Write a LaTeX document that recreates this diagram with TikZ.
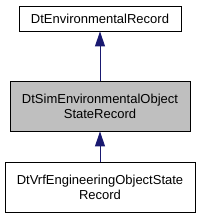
\documentclass[tikz,border=0pt]{standalone}
\usepackage{fontspec}
\setmainfont{Liberation Sans}
\usetikzlibrary{arrows.meta}
\definecolor{edgeblue}{HTML}{191970}
\definecolor{boxgray}{HTML}{BFBFBF}
\tikzset{
  cls/.style={draw=black, line width=0.9pt, fill=white, rectangle, inner sep=0pt,
    align=center, font=\fontsize{13}{15}\selectfont},
  clsgray/.style={cls, fill=boxgray},
  inherit/.style={draw=edgeblue, line width=0.9pt,
    -{Triangle[length=15pt,width=10pt]}}
}
\begin{document}
\begin{tikzpicture}[x=1pt,y=1pt]
\useasboundingbox (0,0) rectangle (200,219);
\node[cls, minimum width=162pt, minimum height=25pt] (a) at (100,200.5) {DtEnvironmentalRecord};
\node[clsgray, minimum width=180pt, minimum height=50pt] (b) at (100,113) {DtSimEnvironmentalObject\\StateRecord};
\node[cls, minimum width=190pt, minimum height=50pt] (c) at (100,32) {DtVrfEngineeringObjectState\\Record};
\draw[inherit] (b.north) -- (a.south);
\draw[inherit] (c.north) -- (b.south);
\end{tikzpicture}
\end{document}
